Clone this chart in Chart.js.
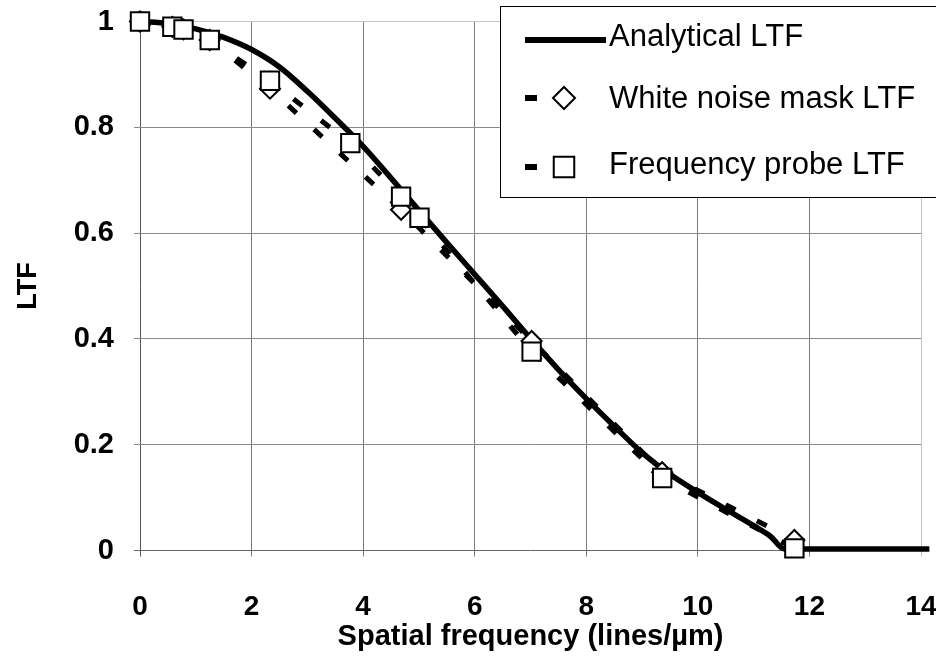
<!DOCTYPE html>
<html>
<head>
<meta charset="utf-8">
<script src="https://cdn.jsdelivr.net/npm/chart.js@4.4.1/dist/chart.umd.min.js"></script>
<style>
	html, body { margin: 0; padding: 0; background: #fff; }
</style>
</head>
<body>
<canvas id="ltf" width="936" height="656"></canvas>
<script>
/* global Chart */

const FONT = "'Liberation Sans', Arial, Helvetica, sans-serif";

// Analytical LTF curve, sampled along spatial frequency (lines/µm)
const analyticX = [0, 0.5, 1, 1.5, 2, 2.5, 3, 3.5, 4, 4.5, 5, 5.5, 6, 6.5, 7, 7.5, 8, 8.5, 9, 9.5, 10, 10.5, 11, 11.3, 11.55, 12, 13, 14.15];
const analyticY = [1, 0.996, 0.986, 0.97, 0.947, 0.914, 0.868, 0.817, 0.764, 0.704, 0.643, 0.582, 0.522, 0.462, 0.401, 0.342, 0.287, 0.235, 0.185, 0.144, 0.11, 0.078, 0.047, 0.027, 0.003, 0.003, 0.003, 0.003];

// White noise mask measurement
const noiseX = [0, 0.58, 0.78, 1.25, 2.33, 4.68, 7.02, 9.36, 11.73];
const noiseY = [1, 0.99, 0.985, 0.965, 0.873, 0.644, 0.396, 0.148, 0.02];

// Frequency probe measurement
const probeX = [0, 0.58, 0.78, 1.25, 2.33, 3.77, 4.68, 5.01, 7.02, 9.36, 11.73];
const probeY = [1, 0.99, 0.985, 0.965, 0.888, 0.77, 0.669, 0.629, 0.376, 0.137, 0.004];

const xTicks = [0, 2, 4, 6, 8, 10, 12, 14];
const yTicks = [0, 0.2, 0.4, 0.6, 0.8, 1];

const pts = (xs, ys) => xs.map((x, i) => ({ x, y: ys[i] }));

const datasets = [
	{
		label: "Frequency probe LTF",
		data: pts(probeX, probeY),
		borderColor: "#000",
		borderWidth: 5,
		borderDash: [11, 24],
		pointStyle: "rect",
		pointRadius: 13,
		pointBorderWidth: 2,
		pointBackgroundColor: "#fff",
		pointBorderColor: "#000",
		tension: 0,
		clip: false,
		order: 0,
	},
	{
		label: "White noise mask LTF",
		data: pts(noiseX, noiseY),
		borderColor: "#000",
		borderWidth: 5,
		borderDash: [11, 24],
		pointStyle: "rectRot",
		pointRadius: 10,
		pointBorderWidth: 2,
		pointBackgroundColor: "#fff",
		pointBorderColor: "#000",
		tension: 0,
		clip: false,
		order: 1,
	},
	{
		label: "Analytical LTF",
		data: pts(analyticX, analyticY),
		borderColor: "#000",
		borderWidth: 5.5,
		pointRadius: 0,
		cubicInterpolationMode: "monotone",
		clip: false,
		order: 2,
	},
];

// boxed legend in the upper right, drawn over the plot
const boxLegend = {
	id: "boxLegend",
	afterDraw(chart) {
		const { ctx } = chart;
		const rows = [
			{ ds: chart.data.datasets[2], y: 40, ty: 37, r: 0 },
			{ ds: chart.data.datasets[1], y: 98, ty: 99, r: 11 },
			{ ds: chart.data.datasets[0], y: 167, ty: 165, r: 14.5 },
		];
		ctx.save();
		ctx.fillStyle = "#fff";
		ctx.fillRect(500, 6, 440, 192);
		ctx.strokeStyle = "#000";
		ctx.lineWidth = 1;
		ctx.strokeRect(500.5, 6.5, 440, 191);

		for (const { ds, y, ty, r } of rows) {
			ctx.strokeStyle = "#000";
			ctx.lineCap = "butt";
			ctx.setLineDash([]);
			ctx.lineWidth = 6;
			ctx.beginPath();
			ctx.moveTo(525, y);
			ctx.lineTo(ds.borderDash ? 537 : 606, y);
			ctx.stroke();
			if (r) {
				ctx.fillStyle = "#fff";
				ctx.lineWidth = ds.pointBorderWidth;
				Chart.helpers.drawPoint(ctx, { pointStyle: ds.pointStyle, radius: r, rotation: 0, borderWidth: ds.pointBorderWidth }, 564, y);
			}
			ctx.fillStyle = "#000";
			ctx.font = `31px ${FONT}`;
			ctx.textBaseline = "middle";
			ctx.textAlign = "left";
			ctx.fillText(ds.label, 609, ty);
		}
		ctx.restore();
	},
};

new Chart(document.getElementById("ltf"), {
	type: "line",
	data: { datasets },
	plugins: [boxLegend],
	options: {
		responsive: false,
		animation: false,
		layout: { padding: { top: 21.5, right: 15, bottom: 0, left: 0 } },
		plugins: { legend: { display: false }, tooltip: { enabled: false } },
		scales: {
			x: {
				type: "linear",
				min: xTicks[0],
				max: xTicks[xTicks.length - 1],
				afterBuildTicks: (s) => { s.ticks = xTicks.map((v) => ({ value: v })); },
				afterFit: (s) => {
					s.height = 105.5;
					s.paddingLeft = 0;
					s.paddingRight = 0;
				},
				ticks: { color: "#000", font: { family: FONT, size: 28, weight: "bold" }, padding: 34, maxRotation: 0 },
				grid: {
					color: (c) => (c.tick.value === 14 ? "#c4c4c4" : c.tick.value === 0 ? "#555" : "#7a7a7a"),
					lineWidth: 1,
					tickLength: 6,
				},
				border: { display: false },
				title: {
					display: true,
					text: "Spatial frequency (lines/µm)",
					color: "#000",
					font: { family: FONT, size: 29, weight: "bold" },
					padding: { top: 0, bottom: 2 },
				},
			},
			y: {
				type: "linear",
				min: yTicks[0],
				max: yTicks[yTicks.length - 1],
				afterBuildTicks: (s) => { s.ticks = yTicks.map((v) => ({ value: v })); },
				afterFit: (s) => {
					s.width = 140;
					s.paddingTop = 0;
					s.paddingBottom = 0;
				},
				ticks: {
					color: "#000",
					font: { family: FONT, size: 29, weight: "bold" },
					padding: 20,
					callback: (v) => String(+v.toFixed(1)),
				},
				grid: {
					color: (c) => (c.tick.value === 1 ? "#c4c4c4" : c.tick.value === 0 ? "#666" : "#8a8a8a"),
					lineWidth: 1,
					tickLength: 6,
				},
				border: { display: false },
				title: {
					display: true,
					text: "LTF",
					color: "#000",
					font: { family: FONT, size: 27, weight: "bold" },
					padding: { top: 12, bottom: 0 },
				},
			},
		},
	},
});
</script>
</body>
</html>
